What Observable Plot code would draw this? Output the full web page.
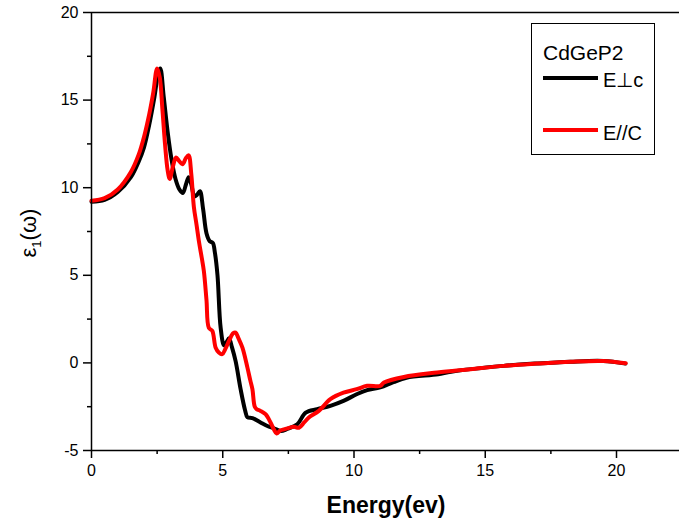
<!DOCTYPE html>
<html>
<head>
<meta charset="utf-8">
<script src="https://cdn.jsdelivr.net/npm/d3@7"></script>
<script src="https://cdn.jsdelivr.net/npm/@observablehq/plot@0.6"></script>
<style>
  html, body { margin: 0; padding: 0; background: #fff; }
  #wrap { position: relative; width: 679px; height: 531px; font-family: "Liberation Sans", Arial, sans-serif; }
  #wrap svg { display: block; }
  .ov { position: absolute; color: #000; white-space: nowrap; }
  #legend { position: absolute; left: 531px; top: 23px; width: 124px; height: 132px; border: 1px solid #000; box-sizing: border-box; background: #fff; }
  .lg { position: absolute; font-size: 20px; line-height: 1; }
  .sw { position: absolute; height: 4px; width: 55px; }
</style>
</head>
<body>
<div id="wrap"></div>
<script>
// Energy (eV) and epsilon_1 values for E⊥c
const perpEnergy = [0, 0.5, 1.0, 1.5, 1.8, 2.0, 2.2, 2.4, 2.55, 2.62, 2.75, 2.9, 3.05, 3.2, 3.35, 3.48, 3.6, 3.7, 3.8, 3.92, 4.02, 4.13, 4.25, 4.38, 4.5, 4.62, 4.7, 4.8, 4.92, 5.05, 5.15, 5.24, 5.35, 5.49, 5.68, 5.85, 5.94, 6.13, 6.44, 6.7, 6.95, 7.2, 7.46, 7.84, 8.16, 8.6, 9.1, 9.6, 10.1, 10.5, 11.0, 11.5, 12.0, 13.2, 13.7, 15.7, 17.0, 18.25, 19.5, 20.34];
const perpEps = [9.2, 9.3, 9.75, 10.6, 11.5, 12.3, 13.6, 15.2, 16.6, 16.8, 15.2, 13.2, 11.6, 10.5, 9.9, 9.7, 10.2, 10.6, 10.2, 9.5, 9.6, 9.8, 8.8, 7.4, 6.95, 6.85, 6.3, 5.0, 2.0, 1.0, 1.2, 1.4, 0.9, 0.1, -1.5, -2.7, -3.1, -3.15, -3.4, -3.6, -3.73, -3.88, -3.77, -3.5, -2.84, -2.64, -2.45, -2.17, -1.79, -1.55, -1.4, -1.1, -0.85, -0.65, -0.5, -0.17, -0.03, 0.07, 0.11, -0.04];

// Energy (eV) and epsilon_1 values for E//C
const parEnergy = [0, 0.5, 1.0, 1.5, 1.8, 2.0, 2.2, 2.35, 2.5, 2.6, 2.7, 2.8, 2.9, 2.98, 3.1, 3.22, 3.35, 3.47, 3.6, 3.7, 3.8, 3.9, 4.0, 4.09, 4.2, 4.28, 4.38, 4.47, 4.6, 4.73, 4.85, 4.98, 5.1, 5.25, 5.4, 5.49, 5.6, 5.75, 5.94, 6.05, 6.13, 6.22, 6.3, 6.44, 6.63, 6.82, 6.95, 7.05, 7.2, 7.33, 7.5, 7.71, 7.9, 8.1, 8.28, 8.66, 9.1, 9.6, 10.1, 10.5, 11.0, 11.14, 11.9, 13.17, 14.44, 15.7, 16.98, 18.25, 19.5, 20.35];
const parEps = [9.25, 9.4, 9.9, 10.9, 11.9, 12.9, 14.2, 15.4, 16.8, 16.3, 14.5, 12.5, 11.0, 10.5, 11.2, 11.72, 11.5, 11.34, 11.7, 11.85, 10.8, 8.9, 7.9, 6.96, 6.0, 5.25, 3.6, 2.0, 1.83, 0.87, 0.6, 0.5, 0.8, 1.3, 1.7, 1.73, 1.4, 0.87, -0.27, -1.0, -1.5, -2.5, -2.65, -2.74, -2.93, -3.4, -3.8, -4.03, -3.85, -3.79, -3.72, -3.65, -3.7, -3.4, -3.12, -2.74, -2.07, -1.7, -1.5, -1.31, -1.31, -1.12, -0.8, -0.55, -0.36, -0.17, -0.04, 0.07, 0.11, -0.02];

const xMajor = [0, 5, 10, 15, 20];
const xMinor = [2.5, 7.5, 12.5, 17.5];
const yMajor = [-5, 0, 5, 10, 15, 20];
const yMinor = [-2.5, 2.5, 7.5, 12.5, 17.5];

const perp = perpEnergy.map((e, i) => ({ e, v: perpEps[i] }));
const par = parEnergy.map((e, i) => ({ e, v: parEps[i] }));

const fmt = d => String(d);

const chart = Plot.plot({
  width: 679,
  height: 531,
  marginLeft: 91,
  marginRight: 0,
  marginTop: 12,
  marginBottom: 81,
  style: { fontFamily: "Liberation Sans, Arial, sans-serif", fontSize: "16px", background: "#fff", color: "#000" },
  x: { domain: [0, 22.4] },
  y: { domain: [-5, 20] },
  marks: [
    Plot.line(perp, { x: "e", y: "v", stroke: "#000", strokeWidth: 4, curve: "catmull-rom" }),
    Plot.line(par, { x: "e", y: "v", stroke: "#ff0000", strokeWidth: 4, curve: "catmull-rom" }),
    Plot.ruleY([20], { stroke: "#000", strokeWidth: 1.5 }),
    Plot.ruleY([-5], { stroke: "#000", strokeWidth: 1.5 }),
    Plot.ruleX([0], { stroke: "#000", strokeWidth: 1.5 }),
    Plot.axisY({ ticks: yMajor, tickFormat: fmt, tickSize: 8, tickPadding: 5, fontSize: 16, label: null, strokeWidth: 1.5 }),
    Plot.axisY({ ticks: yMinor, tickSize: 4, text: null, label: null, strokeWidth: 1.5 }),
    Plot.axisX({ ticks: xMajor, tickFormat: fmt, tickSize: 8, tickPadding: 6, fontSize: 16, label: null, strokeWidth: 1.5 }),
    Plot.axisX({ ticks: xMinor, tickSize: 4, text: null, label: null, strokeWidth: 1.5 })
  ]
});

const wrap = document.getElementById("wrap");
wrap.appendChild(chart);

const xl = document.createElement("div");
xl.className = "ov";
xl.style.cssText = "left:0;width:" + (2 * 386) + "px;top:492px;text-align:center;font-weight:bold;font-size:23px;";
xl.textContent = "Energy(ev)";
wrap.appendChild(xl);

const yl = document.createElement("div");
yl.className = "ov";
yl.style.cssText = "left:30px;top:233px;font-size:22px;transform:translate(-50%,-50%) rotate(-90deg);";
yl.innerHTML = "ε<sub style='font-size:13px'>1</sub>(ω)";
wrap.appendChild(yl);

const lg = document.createElement("div");
lg.id = "legend";
lg.innerHTML =
  "<div class='lg' style='left:11px;top:18px;font-size:21px'>CdGeP2</div>" +
  "<div class='sw' style='left:11px;top:52px;background:#000'></div>" +
  "<div class='lg' style='left:71px;top:46px'>E⊥c</div>" +
  "<div class='sw' style='left:11px;top:104px;background:#ff0000'></div>" +
  "<div class='lg' style='left:71px;top:99px'>E//C</div>";
wrap.appendChild(lg);
</script>
</body>
</html>
